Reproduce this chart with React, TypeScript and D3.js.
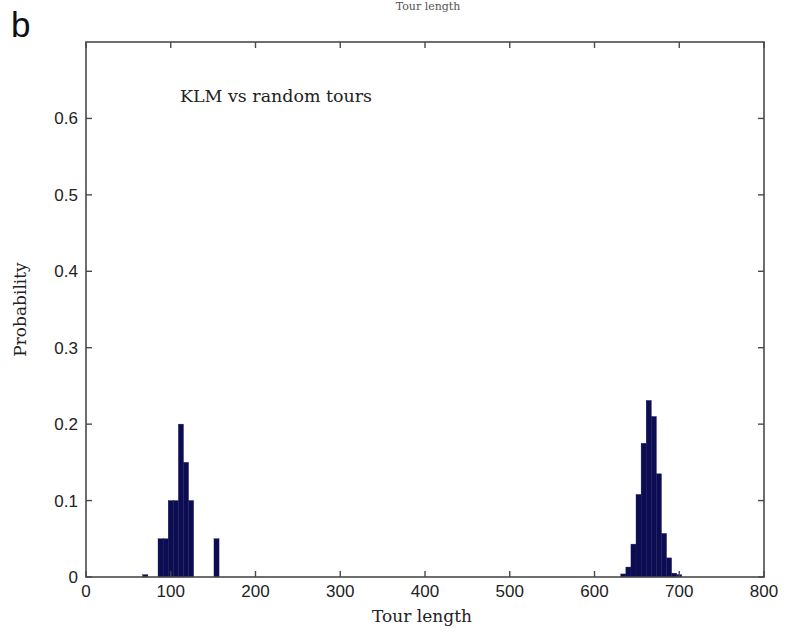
import React from "react";
import * as d3 from "d3";

// ---- data ----
const binWidth = 6;
const klmBinStarts = [67, 85, 91, 97, 103, 109, 115, 121, 151];
const klmProb = [0.003, 0.05, 0.05, 0.1, 0.1, 0.2, 0.15, 0.1, 0.05];
const randomBinStarts = [631, 637, 643, 649, 655, 661, 667, 673, 679, 685, 691, 697];
const randomProb = [0.004, 0.013, 0.043, 0.108, 0.175, 0.231, 0.21, 0.135, 0.057, 0.025, 0.005, 0.003];
const xTicks = [0, 100, 200, 300, 400, 500, 600, 700, 800];
const yTicks = [0, 0.1, 0.2, 0.3, 0.4, 0.5, 0.6];
const yTickLabels = ["0", "0.1", "0.2", "0.3", "0.4", "0.5", "0.6"];
const xLabel = "Tour length";
const yLabel = "Probability";
const annotation = "KLM vs random tours";
const panelLabel = "b";
const prevPanelXLabel = "Tour length";

export default function App() {
  const W = 788, H = 644;
  const left = 86, right = 764, top = 42, bottom = 577;
  const x = d3.scaleLinear().domain([0, 800]).range([left, right]);
  const y = d3.scaleLinear().domain([0, 0.7]).range([bottom, top]);

  const bars = [
    ...klmBinStarts.map((s, i) => ({ s, p: klmProb[i] })),
    ...randomBinStarts.map((s, i) => ({ s, p: randomProb[i] })),
  ];
  const axisColor = "#4a4a4a";
  const sans = "'Liberation Sans', Arial, sans-serif";
  const serif = "'DejaVu Serif', 'Liberation Serif', serif";
  const tickLen = 6;

  return (
    <svg
      width={W}
      height={H}
      style={{ position: "absolute", left: 0, top: 0, background: "#fff" }}
    >
      <rect x={0} y={0} width={W} height={H} fill="#fff" />
      {/* label from panel above (cropped in the source figure) */}
      <text x={428} y={10} fontFamily={serif} fontSize={11} textAnchor="middle" fill="#555">
        {prevPanelXLabel}
      </text>
      <text x={11} y={37} fontFamily={sans} fontSize={35} fill="#111">
        {panelLabel}
      </text>

      {/* bars */}
      {bars.map((b, i) => (
        <rect
          key={i}
          x={x(b.s)}
          y={y(b.p)}
          width={x(b.s + binWidth) - x(b.s)}
          height={y(0) - y(b.p)}
          fill="#0c0c52"
          stroke="#1a1a5e"
          strokeWidth={0.4}
        />
      ))}

      {/* box */}
      <rect
        x={left}
        y={top}
        width={right - left}
        height={bottom - top}
        fill="none"
        stroke={axisColor}
        strokeWidth={1.6}
      />

      {/* x ticks */}
      {xTicks.map((t) => (
        <g key={"x" + t}>
          <line x1={x(t)} x2={x(t)} y1={bottom} y2={bottom - tickLen} stroke={axisColor} strokeWidth={1.4} />
          <line x1={x(t)} x2={x(t)} y1={top} y2={top + tickLen} stroke={axisColor} strokeWidth={1.4} />
          <text
            x={x(t)}
            y={bottom + 20}
            fontFamily={sans}
            fontSize={17}
            textAnchor="middle"
            fill="#222"
          >
            {t}
          </text>
        </g>
      ))}

      {/* y ticks */}
      {yTicks.map((t, i) => (
        <g key={"y" + t}>
          <line x1={left} x2={left + tickLen} y1={y(t)} y2={y(t)} stroke={axisColor} strokeWidth={1.4} />
          <line x1={right} x2={right - tickLen} y1={y(t)} y2={y(t)} stroke={axisColor} strokeWidth={1.4} />
          <text
            x={left - 8}
            y={y(t) + 6}
            fontFamily={sans}
            fontSize={17}
            textAnchor="end"
            fill="#222"
          >
            {yTickLabels[i]}
          </text>
        </g>
      ))}

      <text x={180} y={102} fontFamily={serif} fontSize={16} fill="#222" textLength={192} lengthAdjust="spacingAndGlyphs">
        {annotation}
      </text>

      <text
        x={(left + right) / 2 - 3}
        y={622}
        fontFamily={serif}
        fontSize={17}
        textAnchor="middle"
        fill="#222"
      >
        {xLabel}
      </text>
      <text
        transform={`translate(26, ${(top + bottom) / 2}) rotate(-90)`}
        fontFamily={serif}
        fontSize={17}
        textAnchor="middle"
        fill="#222"
      >
        {yLabel}
      </text>
    </svg>
  );
}
